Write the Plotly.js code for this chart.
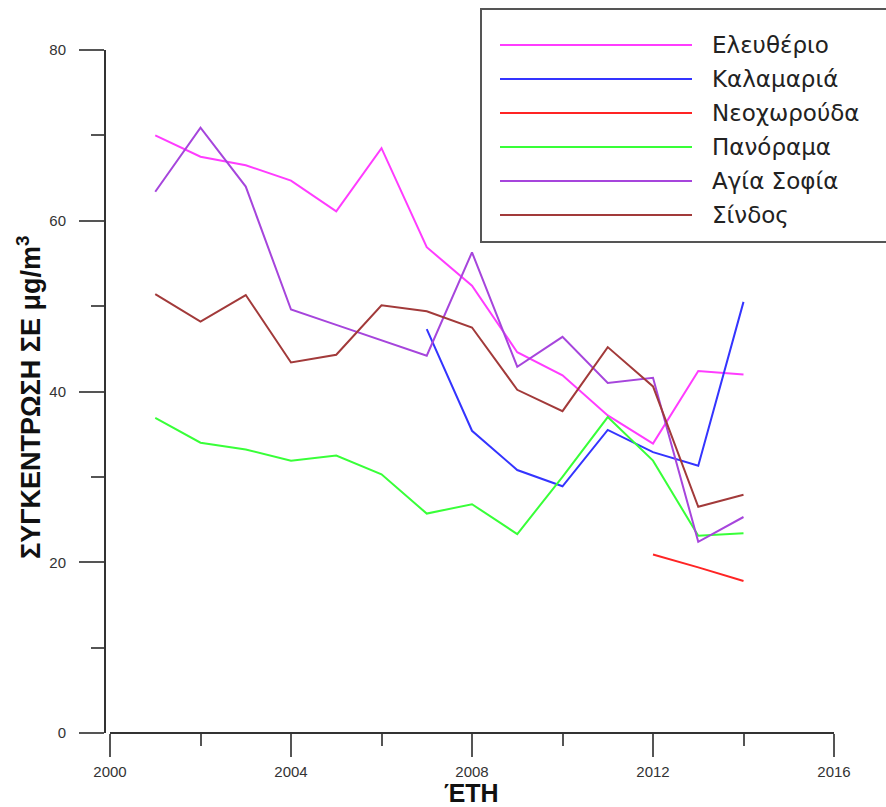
<!DOCTYPE html>
<html>
<head>
<meta charset="utf-8">
<script src="https://cdn.plot.ly/plotly-3.0.1.min.js"></script>
<style>
  html, body { margin: 0; padding: 0; background: #fff; }
  #chart { width: 886px; height: 807px; }
</style>
</head>
<body>
<div id="chart"></div>
<script>
// Annual mean concentrations (μg/m3) per monitoring station
const years = [2001, 2002, 2003, 2004, 2005, 2006, 2007, 2008, 2009, 2010, 2011, 2012, 2013, 2014];

const eleftherio  = [70.0, 67.5, 66.5, 64.7, 61.1, 68.5, 56.9, 52.4, 44.6, 41.9, 37.2, 33.9, 42.4, 42.0];
const kalamaria   = [null, null, null, null, null, null, 47.3, 35.4, 30.8, 28.9, 35.5, 32.9, 31.3, 50.5];
const neochorouda = [null, null, null, null, null, null, null, null, null, null, null, 20.9, 19.4, 17.8];
const panorama    = [36.9, 34.0, 33.2, 31.9, 32.5, 30.3, 25.7, 26.8, 23.3, 30.0, 37.0, 31.9, 23.1, 23.4];
const agiaSofia   = [63.4, 70.9, 64.0, 49.6, 47.8, 46.0, 44.2, 56.3, 42.9, 46.4, 41.0, 41.6, 22.4, 25.3];
const sindos      = [51.4, 48.2, 51.3, 43.4, 44.3, 50.1, 49.4, 47.5, 40.2, 37.7, 45.2, 40.6, 26.5, 27.9];

const stationNames = ['Ελευθέριο', 'Καλαμαριά', 'Νεοχωρούδα', 'Πανόραμα', 'Αγία Σοφία', 'Σίνδος'];
const stationSeries = [eleftherio, kalamaria, neochorouda, panorama, agiaSofia, sindos];

const xTickVals = [2000, 2004, 2008, 2012, 2016];
const yTickVals = [0, 20, 40, 60, 80];

const xTitle = 'ΈΤΗ';
const yTitle = 'ΣΥΓΚΕΝΤΡΩΣΗ ΣΕ μg/m<sup>3</sup>';

// Styling
const lineColors = ['#FF3CFF', '#3434FF', '#FF2424', '#38FF38', '#A645DC', '#A23A3A'];
const FONT = 'Liberation Sans, Arial, sans-serif';
const KEY_FONT = 'DejaVu Sans, Verdana, sans-serif';
const W = 886, H = 807;
const M = { l: 106, r: 52, t: 50, b: 74 };
const plotW = W - M.l - M.r, plotH = H - M.t - M.b;
const px = X => (X - M.l) / plotW;        // page pixel -> paper x
const py = Y => (H - M.b - Y) / plotH;    // page pixel -> paper y

const traces = stationSeries.map((vals, i) => ({
  type: 'scatter',
  mode: 'lines',
  name: stationNames[i],
  x: years,
  y: vals,
  connectgaps: false,
  line: { color: lineColors[i], width: 2 },
  showlegend: false,
  hoverinfo: 'x+y+name'
}));

// Boxed key with long line samples
const shapes = [];
const annotations = [];
shapes.push({
  type: 'rect', xref: 'paper', yref: 'paper',
  x0: px(481), x1: px(905), y0: py(242), y1: py(9),
  line: { color: '#555', width: 2 }, fillcolor: 'rgba(255,255,255,1)', layer: 'above'
});
stationNames.forEach((name, i) => {
  const rowY = 45 + 34 * i;
  shapes.push({
    type: 'line', xref: 'paper', yref: 'paper',
    x0: px(500), x1: px(692), y0: py(rowY), y1: py(rowY),
    line: { color: lineColors[i], width: 2 }, layer: 'above'
  });
  annotations.push({
    xref: 'paper', yref: 'paper', x: px(710), y: py(rowY),
    xanchor: 'left', yanchor: 'middle', showarrow: false,
    text: name, font: { family: KEY_FONT, size: 23, color: '#222' }
  });
});

// Bottom axis line, running from the first to the last year tick
shapes.push({
  type: 'line', xref: 'x', yref: 'paper',
  x0: 2000, x1: 2016, y0: 0, y1: 0,
  line: { color: '#333', width: 2 }, layer: 'above'
});

// Axis titles
annotations.push({
  xref: 'paper', yref: 'paper', x: px(471), y: py(793),
  xanchor: 'center', yanchor: 'middle', showarrow: false,
  text: xTitle, font: { family: FONT, size: 25, color: '#111', weight: 'bold' }
});
annotations.push({
  xref: 'paper', yref: 'paper', x: px(29), y: py(397),
  xanchor: 'center', yanchor: 'middle', showarrow: false, textangle: -90,
  text: yTitle, font: { family: FONT, size: 27, color: '#111', weight: 'bold' }
});

const layout = {
  width: W, height: H,
  margin: M,
  paper_bgcolor: '#fff', plot_bgcolor: '#fff',
  showlegend: false,
  xaxis: {
    range: [2000 - 4 / 45.25, 2016],
    tickmode: 'array', tickvals: xTickVals, ticktext: xTickVals.map(String),
    ticks: 'outside', ticklen: 23, tickwidth: 2, tickcolor: '#555',
    ticklabelstandoff: 2,
    minor: { ticks: 'outside', dtick: 2, tick0: 2000, ticklen: 12, tickwidth: 2, tickcolor: '#555', showgrid: false },
    showline: false, showgrid: false, zeroline: false,
    tickfont: { family: FONT, size: 15, color: '#333' }
  },
  yaxis: {
    range: [0, 80],
    tickmode: 'array', tickvals: yTickVals, ticktext: yTickVals.map(String),
    ticks: 'outside', ticklen: 25, tickwidth: 2, tickcolor: '#555',
    ticklabelstandoff: 10,
    minor: { ticks: 'outside', dtick: 10, tick0: 0, ticklen: 13, tickwidth: 2, tickcolor: '#555', showgrid: false },
    showline: true, linecolor: '#333', linewidth: 2,
    showgrid: false, zeroline: false,
    tickfont: { family: FONT, size: 15, color: '#333' }
  },
  shapes: shapes,
  annotations: annotations
};

Plotly.newPlot('chart', traces, layout, { displayModeBar: false, staticPlot: true });
</script>
</body>
</html>
